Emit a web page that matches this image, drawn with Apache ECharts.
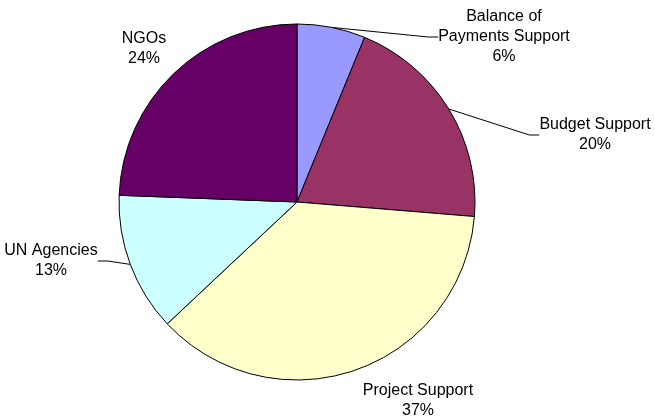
<!DOCTYPE html>
<html><head><meta charset="utf-8">
<script src="https://cdn.jsdelivr.net/npm/echarts@6/dist/echarts.min.js"></script>
<style>html,body{margin:0;padding:0;background:#fff}#c{width:655px;height:419px}</style>
</head><body><div id="c"></div>
<script>
const categories = ["Balance of\nPayments Support", "Budget Support", "Project Support", "UN Agencies", "NGOs"];
const values = [6.2, 20.1, 36.7, 12.6, 24.4];
const colors = ["#9999FF", "#993366", "#FFFFCC", "#CCFFFF", "#660066"];
const showLeader = [true, true, false, true, false];
// label block centres (layout only)
const labelPos = [[504, 37], [595, 135], [418, 401], [51, 261], [144, 49]];

const chart = echarts.init(document.getElementById('c'), null, {renderer: 'canvas'});
chart.setOption({
  animation: false,
  backgroundColor: '#fff',
  series: [{
    type: 'pie',
    center: [297, 202],
    radius: [0, 178],
    startAngle: 90,
    clockwise: true,
    avoidLabelOverlap: false,
    itemStyle: {borderColor: '#000', borderWidth: 1},
    label: {
      show: true, position: 'outside',
      formatter: p => p.name + '\n' + Math.round(p.percent) + '%',
      fontFamily: 'Liberation Sans, Arial, sans-serif',
      fontSize: 16, lineHeight: 20, color: '#000', align: 'center'
    },
    labelLine: {show: true, length: 20, length2: 10, smooth: false, lineStyle: {color: '#000', width: 1}},
    labelLayout: function (params) {
      const p = labelPos[params.dataIndex];
      return {x: p[0], y: p[1], align: 'center', verticalAlign: 'middle', hideOverlap: false, moveOverlap: false};
    },
    emphasis: {disabled: true},
    data: categories.map((c, i) => ({
      name: c, value: values[i],
      itemStyle: {color: colors[i]},
      labelLine: {show: showLeader[i]}
    }))
  }]
});
</script></body></html>
